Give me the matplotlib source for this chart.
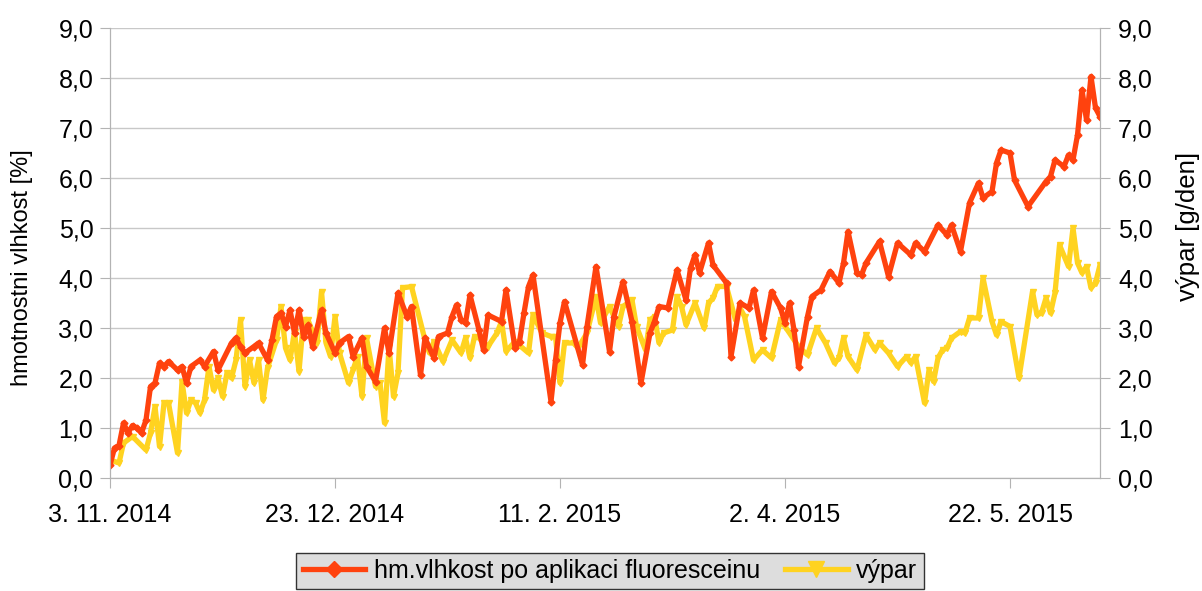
import numpy as np
import matplotlib
matplotlib.use('Agg')
import matplotlib.pyplot as plt
from matplotlib.ticker import FuncFormatter

plt.rcParams['font.family'] = ['Liberation Sans', 'DejaVu Sans']

start = np.datetime64('2014-11-03')
end = np.datetime64('2015-06-11')

# hm. vlhkost po aplikaci fluoresceinu [%] -- den od 3. 11. 2014
vlhkost_den = [0, 1, 2, 3, 4, 5, 6, 7, 8, 9, 10, 11, 12, 13, 15, 16, 17, 18, 20, 21,
               23, 24, 27, 28, 29, 30, 32, 33, 35, 36, 37, 38, 39, 40, 41, 42, 43, 44, 45, 47,
               48, 50, 51, 53, 54, 56, 57, 59, 61, 62, 64, 66, 67, 69, 70, 72, 73, 75, 76, 77,
               78, 79, 80, 82, 83, 84, 87, 88, 90, 91, 92, 93, 94, 98, 99, 100, 101, 105, 106, 108,
               111, 112, 114, 116, 118, 120, 121, 122, 124, 126, 128, 129, 130, 131, 133, 134, 137, 138, 140, 142,
               143, 145, 147, 149, 150, 151, 152, 153, 155, 156, 158, 160, 162, 163, 164, 166, 167, 168, 171, 173,
               175, 178, 179, 181, 184, 186, 187, 189, 191, 193, 194, 196, 197, 198, 200, 201, 204, 208, 209, 210,
               212, 213, 214, 215, 216, 217, 218, 219, 220]
vlhkost = [0.26, 0.6, 0.65, 1.1, 0.9, 1.05, 1.0, 0.9, 1.16, 1.83, 1.9, 2.3, 2.23, 2.33, 2.16, 2.23, 1.9, 2.23, 2.36, 2.23,
           2.53, 2.16, 2.7, 2.8, 2.63, 2.5, 2.63, 2.7, 2.36, 2.76, 3.23, 3.3, 3.03, 3.36, 2.9, 3.36, 2.83, 3.06, 2.63, 3.36,
           2.9, 2.5, 2.7, 2.83, 2.43, 2.8, 2.23, 1.93, 3.0, 2.5, 3.7, 3.23, 3.43, 2.06, 2.8, 2.4, 2.83, 2.9, 3.23, 3.46,
           3.16, 3.1, 3.66, 2.96, 2.56, 3.26, 3.13, 3.76, 2.6, 2.73, 3.3, 3.83, 4.06, 1.53, 2.36, 3.1, 3.53, 2.26, 3.03, 4.23,
           2.53, 3.23, 3.93, 3.13, 1.9, 2.9, 3.13, 3.43, 3.4, 4.16, 3.56, 4.2, 4.46, 4.1, 4.7, 4.26, 3.9, 2.43, 3.5, 3.4,
           3.76, 2.8, 3.73, 3.4, 3.1, 3.5, 2.96, 2.23, 3.23, 3.63, 3.76, 4.13, 3.9, 4.3, 4.93, 4.1, 4.06, 4.3, 4.73, 4.03,
           4.7, 4.46, 4.7, 4.53, 5.06, 4.86, 5.06, 4.53, 5.5, 5.9, 5.6, 5.73, 6.3, 6.56, 6.5, 5.96, 5.43, 5.93, 6.03, 6.36,
           6.23, 6.46, 6.36, 6.86, 7.76, 7.16, 8.03, 7.4, 7.23]

# výpar [g/den]
vypar_den = [0, 2, 3, 5, 8, 9, 10, 11, 12, 13, 15, 16, 17, 18, 19, 20, 21, 22, 23, 24,
             25, 26, 27, 28, 29, 30, 31, 32, 33, 34, 35, 37, 38, 39, 40, 41, 42, 43, 44, 46,
             47, 48, 49, 50, 51, 53, 54, 55, 56, 57, 59, 60, 61, 62, 63, 64, 65, 67, 70, 71,
             72, 74, 76, 78, 79, 80, 81, 82, 84, 86, 87, 88, 90, 93, 94, 96, 98, 99, 100, 101,
             103, 104, 106, 108, 109, 111, 113, 114, 116, 117, 119, 120, 121, 122, 123, 125, 126, 127, 128, 130,
             132, 133, 134, 135, 137, 139, 140, 141, 143, 145, 147, 149, 150, 151, 153, 155, 157, 159, 161, 162,
             163, 164, 166, 168, 170, 171, 173, 175, 177, 178, 179, 181, 182, 183, 184, 185, 186, 187, 189, 190,
             191, 193, 194, 196, 197, 198, 200, 202, 205, 206, 207, 208, 209, 210, 211, 213, 214, 215, 216, 217,
             218, 219, 220]
vypar = [0.36, 0.3, 0.7, 0.83, 0.56, 0.9, 1.43, 0.63, 1.5, 1.5, 0.5, 1.93, 1.3, 1.56, 1.5, 1.3, 1.56, 2.23, 1.76, 2.0,
         1.63, 2.1, 2.0, 2.36, 3.16, 1.83, 2.36, 1.9, 2.36, 1.56, 2.2, 2.76, 3.43, 2.6, 2.36, 2.93, 2.13, 3.16, 3.16, 2.7,
         3.73, 2.7, 2.43, 3.23, 2.5, 1.9, 2.16, 2.43, 1.63, 2.8, 1.83, 1.9, 1.1, 2.63, 1.63, 2.1, 3.8, 3.83, 2.76, 2.5,
         2.73, 2.33, 2.76, 2.5, 2.8, 2.4, 2.83, 2.8, 2.63, 2.9, 3.13, 2.53, 2.73, 2.5, 3.26, 2.9, 2.83, 2.83, 1.9, 2.7,
         2.7, 2.6, 2.9, 3.63, 3.1, 3.43, 3.03, 3.43, 3.56, 3.03, 2.56, 3.16, 3.23, 2.7, 2.9, 2.96, 3.63, 3.43, 3.06, 3.5,
         3.0, 3.5, 3.6, 3.83, 3.83, 3.16, 3.4, 3.23, 2.36, 2.56, 2.4, 3.16, 3.03, 2.9, 2.63, 2.46, 3.0, 2.7, 2.3, 2.4,
         2.8, 2.43, 2.16, 2.86, 2.56, 2.7, 2.5, 2.23, 2.43, 2.3, 2.43, 1.5, 2.16, 1.93, 2.4, 2.56, 2.6, 2.8, 2.93, 2.9,
         3.2, 3.2, 4.0, 3.13, 2.86, 3.13, 3.03, 2.0, 3.73, 3.26, 3.3, 3.6, 3.3, 3.7, 4.66, 4.23, 5.0, 4.3, 4.1, 4.23,
         3.8, 3.9, 4.26]

tick_dates = ['2014-11-03', '2014-12-23', '2015-02-11', '2015-04-02', '2015-05-22']

RED = '#ff420e'
YELLOW = '#ffd320'
GRID = '#c8c8c8'
AXIS = '#b3b3b3'


def cz_num(v, pos=None):
    return f'{v:.1f}'.replace('.', ',')


def cz_date(d):
    d = d.astype(object)
    return f'{d.day}. {d.month}. {d.year}'


x_vl = start + np.array(vlhkost_den).astype('timedelta64[D]')
x_vy = start + np.array(vypar_den).astype('timedelta64[D]')

fig = plt.figure(figsize=(12.02, 5.91), dpi=100)
ax = fig.add_axes([110 / 1202, 1 - 478 / 591, 990 / 1202, 450 / 591])

ax.plot(x_vy, vypar, color=YELLOW, lw=3.8, marker='v', ms=5, zorder=3,
        label='výpar')
ax.plot(x_vl, vlhkost, color=RED, lw=3.8, marker='D', ms=3.5, zorder=4,
        label='hm.vlhkost po aplikaci fluoresceinu')

ax.set_xlim(start, end)
ax.set_ylim(0, 9)
ax.set_yticks(np.arange(0, 10, 1))
ax.yaxis.set_major_formatter(FuncFormatter(cz_num))
ticks = np.array(tick_dates, dtype='datetime64[D]')
ax.set_xticks(ticks)
ax.set_xticklabels([cz_date(t) for t in ticks])
ax.grid(axis='y', color=GRID, lw=1, zorder=0)
ax.set_axisbelow(True)

for side in ['left', 'bottom', 'right']:
    ax.spines[side].set_color(AXIS)
ax.spines['top'].set_visible(False)
ax.tick_params(axis='y', direction='out', length=7, color=AXIS, labelsize=18, pad=5)
ax.tick_params(axis='x', direction='out', length=7, color=AXIS, labelsize=18, pad=11)

ax2 = ax.twinx()
ax2.set_ylim(0, 9)
ax2.set_yticks(np.arange(0, 10, 1))
ax2.yaxis.set_major_formatter(FuncFormatter(cz_num))
for side in ['left', 'bottom', 'right']:
    ax2.spines[side].set_color(AXIS)
ax2.spines['top'].set_visible(False)
ax2.tick_params(axis='y', direction='out', length=7, color=AXIS, labelsize=18, pad=6)

fig.text(22 / 1202, 1 - 268 / 591, 'hmotnostni vlhkost [%]', rotation=90,
         ha='center', va='center', fontsize=17)
fig.text(1188 / 1202, 1 - 226 / 591, 'výpar [g/den]', rotation=90,
         ha='center', va='center', fontsize=18.5)

h, l = ax.get_legend_handles_labels()
leg = fig.legend(h[::-1], l[::-1], loc='center', ncol=2,
                 bbox_to_anchor=(610 / 1202, 1 - 571 / 591),
                 fontsize=18, frameon=True, fancybox=False, markerscale=2.2,
                 handlelength=2.5, columnspacing=1.0, borderpad=0.25,
                 borderaxespad=0, handletextpad=0.35)
leg.get_frame().set_facecolor('#dddddd')
leg.get_frame().set_edgecolor('#333333')
leg.get_frame().set_alpha(1)

fig.savefig('out.png', dpi=100)
